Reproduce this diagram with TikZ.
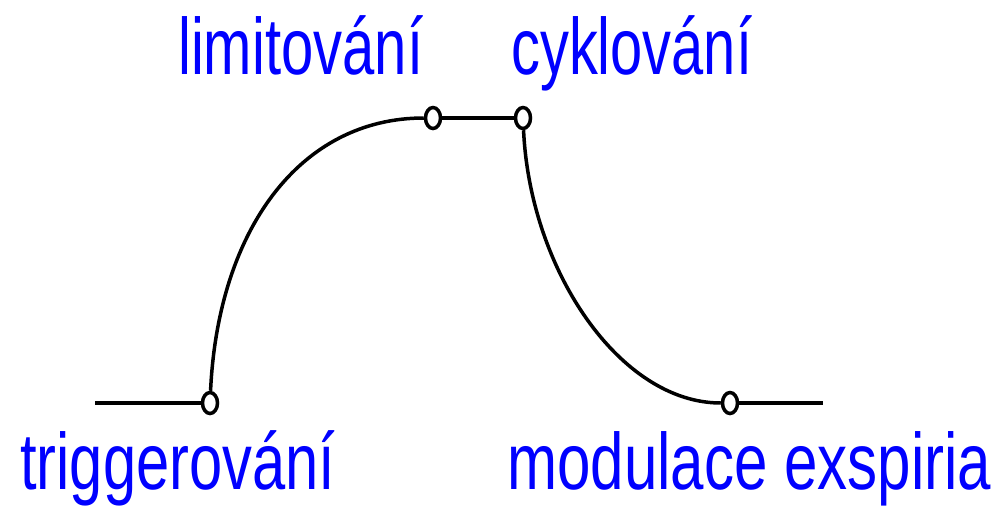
\documentclass[tikz,border=0pt]{standalone}
\usepackage{fontspec}
\setmainfont{Liberation Sans}
\usetikzlibrary{shapes.geometric}
\begin{document}
\begin{tikzpicture}[x=1pt,y=-1pt,
  dot/.style={ellipse,draw,fill=white,line width=3.5pt,minimum width=15pt,minimum height=21pt,inner sep=0pt},
  wire/.style={line width=3.5pt,black},
  lbl/.style={text={rgb,255:red,0;green,0;blue,255},anchor=base west,inner sep=0pt,font=\fontsize{80}{80}\selectfont}]
\useasboundingbox (0,0) rectangle (999,507);
% points
\node[dot] (p1) at (210,403) {};
\node[dot] (p2) at (433,118) {};
\node[dot] (p3) at (523,118) {};
\node[dot] (p4) at (730,403) {};
\coordinate (l0) at (95,403);
\coordinate (r0) at (823,403);
% connectors
\draw[wire] (l0) -- (p1);
\draw[wire] (p1) .. controls (218,230) and (300,118) .. (p2);
\draw[wire] (p2) -- (p3);
\draw[wire] (p3) .. controls (530,270) and (620,403) .. (p4);
\draw[wire] (p4) -- (r0);
% labels
\node[lbl] (t1) at (178,74) {\resizebox{245pt}{\height}{limitování}};
\node[lbl] (t2) at (511,74) {\resizebox{241pt}{\height}{cyklování}};
\node[lbl] (t3) at (20,489) {\resizebox{315pt}{\height}{triggerování}};
\node[lbl] (t4) at (507,489) {\resizebox{484pt}{\height}{modulace exspiria}};
\end{tikzpicture}
\end{document}
